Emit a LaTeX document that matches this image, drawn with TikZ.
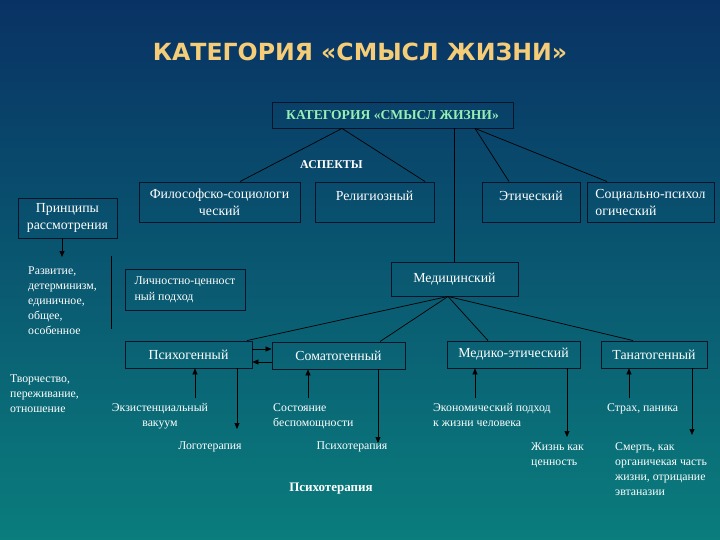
\documentclass[tikz,border=0pt]{standalone}
\usepackage{fontspec}
\setmainfont{Liberation Serif}
\newfontfamily\titlefont{DejaVu Sans}
\usetikzlibrary{arrows.meta}
\definecolor{bgtop}{RGB}{9,50,100}
\definecolor{bgbot}{RGB}{10,125,125}
\definecolor{titlegold}{RGB}{245,205,120}
\definecolor{greentxt}{RGB}{150,240,180}
\definecolor{edge}{RGB}{5,20,40}
\begin{document}
\begin{tikzpicture}[x=1pt,y=-1pt,
  box/.style={draw=edge, line width=0.9pt, text=white, font=\fontsize{13.8}{17}\selectfont, inner sep=0pt, align=center},
  txt/.style={text=white, font=\fontsize{11.8}{15}\selectfont, inner sep=0pt, align=left},
  conn/.style={draw=black, line width=0.7pt},
  arr/.style={conn, -{Triangle[length=6pt,width=5pt]}}]
\shade[top color=bgtop, bottom color=bgbot] (0,0) rectangle (720,540);
\useasboundingbox (0,0) rectangle (720,540);

% title
\node[text=titlegold, font=\titlefont\bfseries\fontsize{23.6}{28}\selectfont] (title) at (360,52) {КАТЕГОРИЯ «СМЫСЛ ЖИЗНИ»};

% boxes
\node[box, minimum width=241pt, minimum height=26pt, text=greentxt, font=\bfseries\fontsize{13.6}{16}\selectfont] (top) at (392.5,115) {КАТЕГОРИЯ «СМЫСЛ ЖИЗНИ»};
\node[text=white, font=\bfseries\fontsize{12}{14}\selectfont, inner sep=0pt, anchor=west] (asp) at (300,165) {АСПЕКТЫ};
\node[box, minimum width=161pt, minimum height=40pt] (filo) at (219.5,202) {Философско-социологи\\ческий};
\node[box, minimum width=119pt, minimum height=40pt] (relig) at (374.5,202) {Религиозный\\[-10pt]\strut};
\node[box, minimum width=98pt, minimum height=40pt] (ethic) at (531,202) {Этический\\[-10pt]\strut};
\node[box, minimum width=127pt, minimum height=40pt, align=left] (social) at (650.5,202) {Социально-психол\\огический};
\node[box, minimum width=99pt, minimum height=40pt] (princ) at (67.5,218) {Принципы\\рассмотрения};
\node[box, minimum width=127pt, minimum height=34pt] (med) at (454.5,279) {Медицинский};
\node[box, minimum width=120pt, minimum height=41pt, align=left, font=\fontsize{11.9}{16}\selectfont] (lichn) at (185,289.5) {Личностно-ценност\\ный подход};
\node[box, minimum width=127pt, minimum height=27pt] (psycho) at (188.5,354.5) {Психогенный};
\node[box, minimum width=133pt, minimum height=27pt] (soma) at (338.5,355.5) {Соматогенный};
\node[box, minimum width=133pt, minimum height=27pt] (medeth) at (513.5,354.5) {Медико-этический};
\node[box, minimum width=106pt, minimum height=27pt] (tanat) at (654,354.5) {Танатогенный};

% texts
\node[txt, anchor=north west] (razv) at (28,267) {Развитие,\\детерминизм,\\единичное,\\общее,\\особенное};
\node[txt, anchor=north west] (tvor) at (10,375) {Творчество,\\переживание,\\отношение};
\node[txt, anchor=north, align=center] (exvac) at (160,403) {Экзистенциальный\\вакуум};
\node[txt, anchor=north west] (sost) at (273,403) {Состояние\\беспомощности};
\node[txt, anchor=north west] (econ) at (433,403) {Экономический подход\\к жизни человека};
\node[txt, anchor=north west] (strah) at (607,403) {Страх, паника};
\node[txt, anchor=north] (logo) at (210,442) {Логотерапия};
\node[txt, anchor=north] (psyt) at (352,442) {Психотерапия};
\node[txt, anchor=north west] (zhizn) at (531,443) {Жизнь как\\ценность};
\node[txt, anchor=north west] (smert) at (615,442) {Смерть, как\\органичекая часть\\жизни, отрицание\\эвтаназии};
\node[text=white, font=\bfseries\fontsize{13}{15}\selectfont, inner sep=0pt] (psytb) at (331,489) {Психотерапия};

% connectors from top box
\coordinate (tA) at ([xshift=-50.5pt]top.south);
\coordinate (tC) at ([xshift=82.5pt]top.south);
\draw[conn] (tA) -- ([xshift=20.5pt]filo.north);
\draw[conn] (tA) -- ([xshift=50.5pt]relig.north);
\draw[conn] (top.south -| med.north) -- (med.north);
\draw[conn] (tC) -- ([xshift=-22pt]ethic.north);
\draw[conn] (tC) -- ([xshift=-43.5pt]social.north);

% connectors from medical
\coordinate (mA) at ([xshift=-6.5pt]med.south);
\draw[conn] (mA) -- ([xshift=58.5pt]psycho.north);
\draw[conn] (mA) -- ([xshift=41.5pt]soma.north);
\draw[conn] (mA) -- ([xshift=-25.5pt]medeth.north);
\draw[conn] (mA) -- ([xshift=-21pt]tanat.north);

% principles arrow and separator
\coordinate (pA) at (62,257);
\draw[arr] (pA |- princ.south) -- (pA);
\draw[conn] (111,256) -- (111,329);

% between psycho and soma
\draw[arr] ([yshift=5.5pt]psycho.east) -- ([yshift=5.5pt]psycho.east -| soma.west);
\draw[arr] ([yshift=-6.5pt]soma.west) -- ([yshift=-6.5pt]soma.west -| psycho.east);

% up arrows
\coordinate (u1) at (195,398);
\coordinate (u2) at (308,398);
\coordinate (u3) at (475,398);
\coordinate (u4) at (629,398);
\draw[arr] (u1) -- (u1 |- psycho.south);
\draw[arr] (u2) -- (u2 |- soma.south);
\draw[arr] (u3) -- (u3 |- medeth.south);
\draw[arr] (u4) -- (u4 |- tanat.south);

% down arrows
\coordinate (d1) at (237,429);
\coordinate (d2) at (378,443);
\coordinate (d3) at (567,437);
\coordinate (d4) at (692,435);
\draw[arr] (d1 |- psycho.south) -- (d1);
\draw[arr] (d2 |- soma.south) -- (d2);
\draw[arr] (d3 |- medeth.south) -- (d3);
\draw[arr] (d4 |- tanat.south) -- (d4);
\end{tikzpicture}
\end{document}
